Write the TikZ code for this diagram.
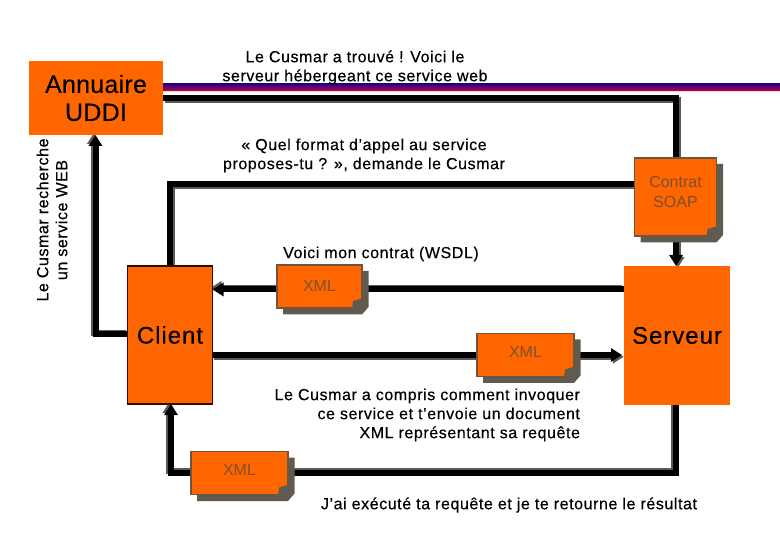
\documentclass[tikz,border=0pt]{standalone}
\usepackage{fontspec}
\setmainfont[FakeBold=0.4,LetterSpace=3.6]{Liberation Sans}
\newfontfamily\plainsans{Liberation Sans}
\newfontfamily\headsans[FakeBold=0.3,LetterSpace=1]{Liberation Sans}
\newfontfamily\actorsans[FakeBold=0.3,LetterSpace=4]{Liberation Sans}
\usetikzlibrary{arrows.meta,calc}
\definecolor{orangefill}{RGB}{255,102,0}
\definecolor{shadowc}{RGB}{96,90,80}
\definecolor{rimc}{RGB}{110,85,60}
\definecolor{softtext}{RGB}{125,80,45}
\definecolor{darkrim}{RGB}{50,10,0}
\definecolor{bartop}{RGB}{40,0,130}
\definecolor{barbottom}{RGB}{190,0,70}
\definecolor{barfringe}{RGB}{255,215,215}
\pgfdeclarelayer{wires}
\pgfdeclarelayer{shades}
\pgfsetlayers{wires,shades,main}
\newcommand{\castshadow}[1]{%
  \begin{pgfonlayer}{shades}
  \fill[shadowc] ($(#1.north east)+(0,6)$) -- ($(#1.north east)+(6.5,6)$) -- ($(#1.south east)+(6.5,-1)$)
    -- ($(#1.south east)+(0,6.5)$) -- ($(#1.south west)+(6,6.5)$) -- ($(#1.south west)+(6,0)$) -- (#1.center) -- cycle;
  \end{pgfonlayer}
  \fill[shadowc] ($(#1.south east)+(-10,1)$) -- ($(#1.south east)+(-9,-7)$) -- ($(#1.south east)+(1,-10)$) -- ($(#1.south east)+(1,1)$) -- cycle;
}
% #1 options, #2 canvas x shift, #3 canvas y shift, #4 path
\newcommand{\wirewithshadow}[4]{%
  \draw[wire,#1,draw=shadowc,transform canvas={xshift=#2,yshift=#3}] #4;
  \draw[wire,#1] #4;
}
\tikzset{
  x=1pt,y=-1pt,
  every node/.style={inner sep=0pt,outer sep=0pt,text=black},
  caption/.style={font=\fontsize{16}{19}\selectfont,align=center},
  actorbox/.style={fill=orangefill,minimum width=85pt,minimum height=138pt,font=\actorsans\fontsize{24}{28}\selectfont},
  notebox/.style={fill=orangefill,draw=rimc,line width=1.3pt},
  notelabel/.style={text=softtext,font=\plainsans\fontsize{16}{19.5}\selectfont,align=center},
  wire/.style={line width=6pt,line cap=butt,line join=miter,draw=black},
  tip/.style={-{Triangle[length=11pt,width=13pt]}},
}
\begin{document}
\begin{tikzpicture}
\useasboundingbox (0,0) rectangle (780,540);

% nodes
\node[fill=orangefill,minimum width=134pt,minimum height=74pt,align=center,
  font=\headsans\fontsize{25}{28}\selectfont] (annuaire) at (96,98) {Annuaire\\UDDI};
\node[actorbox,draw=darkrim,line width=1.3pt] (client) at (170,335) {Client};
\node[actorbox,minimum width=106pt,minimum height=139pt] (serveur) at (677,335.5) {Serveur};
\node[notebox,minimum width=82pt,minimum height=78pt] (contrat) at (675.5,197) {};
\node[notelabel] (contratlabel) at (675.5,192) {Contrat\\SOAP};
\node[notebox,minimum width=85pt,minimum height=43pt] (xmla) at (319.5,286.5) {};
\node[notebox,minimum width=97pt,minimum height=43pt] (xmlb) at (525.5,355) {};
\node[notebox,minimum width=97pt,minimum height=43pt] (xmlc) at (239.5,473) {};
\node[notelabel] (xmlalabel) at (319.5,285.5) {XML};
\node[notelabel] (xmlblabel) at (525.5,352) {XML};
\node[notelabel] (xmlclabel) at (239.5,470) {XML};
\castshadow{contrat}
\castshadow{xmla}
\castshadow{xmlb}
\castshadow{xmlc}

% captions
\node[caption] (cap1) at (355,67.5) {Le Cusmar a trouvé ! Voici le\\serveur hébergeant ce service web};
\node[caption] (cap2) at (364,155.5) {« Quel format d’appel au service\\proposes-tu ? », demande le Cusmar};
\node[caption] (cap3) at (381,254) {Voici mon contrat (WSDL)};
\node[caption,align=right,anchor=east] (cap4) at (580,415) {Le Cusmar a compris comment invoquer\\ce service et t’envoie un document\\XML représentant sa requête};
\node[caption] (cap5) at (509,505) {J’ai exécuté ta requête et je te retourne le résultat};
\node[caption,rotate=90] (cap6) at (52,220) {Le Cusmar recherche\\un service WEB};

% bend points
\coordinate (topright) at (676,98);
\coordinate (midleft) at (170,184);
\coordinate (lookup) at (95.5,334.5);
\coordinate (retright) at (676,472.5);
\coordinate (retleft) at (171,472.5);
\coordinate (callin) at (622,355);
\coordinate (barend) at (780,91);

\begin{pgfonlayer}{wires}
  % striped bar
  \shade[top color=bartop,bottom color=barbottom] (annuaire.east |- 0,84) rectangle (barend);
  \fill[barfringe] (annuaire.east |- 0,91) rectangle (780,92);
  % annuaire -> contrat
  \wirewithshadow{}{1.8pt}{-1.8pt}{(annuaire.east |- topright) -- (topright) -- (contrat.north -| topright)}
  % contrat -> client
  \wirewithshadow{}{1.8pt}{-1.8pt}{(contrat.west |- 0,184) -- (midleft) -- (client.north -| midleft)}
  % contrat -> serveur
  \wirewithshadow{tip}{1.8pt}{-1.8pt}{(contrat.south -| topright) -- (serveur.north -| topright)}
  % serveur -> client (via xml a)
  \wirewithshadow{tip}{-1.8pt}{1.8pt}{(serveur.west |- 0,289.5) -- (client.east |- 0,289.5)}
  % client -> serveur (via xml b)
  \wirewithshadow{tip}{1.8pt}{-1.8pt}{(client.east |- 0,355) -- (callin)}
  % serveur -> client (via xml c)
  \wirewithshadow{tip}{-1.8pt}{1.8pt}{(serveur.south -| retright) -- (retright) -- (retleft) -- (client.south -| retleft)}
  % client -> annuaire
  \wirewithshadow{tip}{-1.8pt}{1.8pt}{(client.west |- lookup) -- (lookup) -- (annuaire.south -| lookup)}
\end{pgfonlayer}
\end{tikzpicture}
\end{document}
